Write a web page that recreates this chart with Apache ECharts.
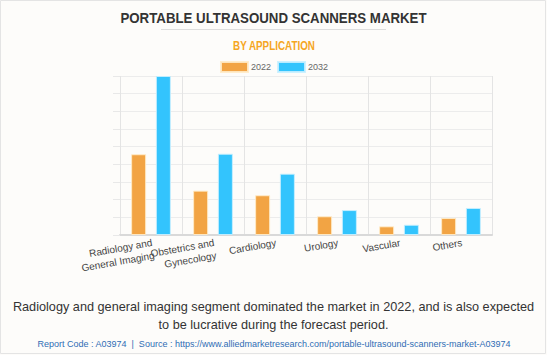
<!DOCTYPE html>
<html>
<head>
<meta charset="utf-8">
<script src="https://cdn.jsdelivr.net/npm/echarts@6/dist/echarts.min.js"></script>
<style>
html,body{margin:0;padding:0;background:#fdfcfa;}
#c{width:547px;height:355px;}
</style>
</head>
<body>
<div id="c"></div>
<script>
const categories = ["Radiology and\nGeneral Imaging", "Obstetrics and\nGynecology", "Cardiology", "Urology", "Vascular", "Others"];
const values2022 = [4.57, 2.51, 2.25, 1.06, 0.49, 0.96];
const values2032 = [9.0, 4.6, 3.47, 1.41, 0.58, 1.53];
const seriesNames = ["2022", "2032"];

const chart = echarts.init(document.getElementById('c'), null, {renderer: 'svg'});
const font = 'Arial, "Liberation Sans", sans-serif';
chart.setOption({
  backgroundColor: '#fdfcfa',
  animation: false,
  textStyle: {fontFamily: font},
  graphic: [
    {type: 'rect', shape: {x: 0.5, y: 0.5, width: 545, height: 353}, style: {fill: 'none', stroke: '#e4e4e4', lineWidth: 1}, silent: true},
    {type: 'text', x: 273.5, y: 18, scaleX: 0.885, style: {text: 'PORTABLE ULTRASOUND SCANNERS MARKET', fill: '#333',
      font: 'bold 15px ' + font, textAlign: 'center', textVerticalAlign: 'middle'}},
    {type: 'line', shape: {x1: 161, y1: 29.5, x2: 386, y2: 29.5}, style: {stroke: '#dddddd', lineWidth: 1}, silent: true},
    {type: 'text', x: 274, y: 46, scaleX: 0.82, style: {text: 'BY APPLICATION', fill: '#F5A623',
      font: 'bold 12px ' + font, textAlign: 'center', textVerticalAlign: 'middle'}},
    {type: 'text', x: 273.5, y: 307, style: {text: 'Radiology and general imaging segment dominated the market in 2022, and is also expected', fill: '#333',
      font: '12.7px ' + font, textAlign: 'center', textVerticalAlign: 'middle'}},
    {type: 'text', x: 273.5, y: 325, style: {text: 'to be lucrative during the forecast period.', fill: '#333',
      font: '12.7px ' + font, textAlign: 'center', textVerticalAlign: 'middle'}},
    {type: 'text', x: 274, y: 344, style: {text: 'Report Code : A03974  |  Source : https://www.alliedmarketresearch.com/portable-ultrasound-scanners-market-A03974', fill: '#2f6db5',
      font: '9px ' + font, textAlign: 'center', textVerticalAlign: 'middle'}}
  ],
  legend: {
    data: seriesNames, left: 215, top: 56, itemWidth: 27, itemHeight: 10, itemGap: 6,
    icon: 'rect',
    textStyle: {fontSize: 9, color: '#666', padding: [0, 0, 0, -2]}
  },
  grid: {left: 120, right: 55, top: 76, bottom: 120, containLabel: false},
  xAxis: {
    type: 'category', data: categories,
    axisLine: {show: true, lineStyle: {color: '#d9d9d9', width: 2}},
    axisTick: {show: false},
    splitLine: {show: true, interval: function (index) { return index < categories.length; }, lineStyle: {color: '#e4e4e4', width: 1}},
    axisLabel: {rotate: 10, interval: 0, fontSize: 10, color: '#444', margin: 1,
                verticalAlign: 'top', lineHeight: 13, fontFamily: font}
  },
  yAxis: {
    type: 'value', min: 0, max: 9, interval: 1,
    axisLine: {show: false},
    axisTick: {show: true, length: 7, lineStyle: {color: '#e8e8e8'}},
    axisLabel: {show: false},
    splitLine: {show: true, lineStyle: {color: '#ececec', width: 1}}
  },
  series: [
    {name: seriesNames[0], type: 'bar', data: values2022, barWidth: 15, barGap: '65%',
     itemStyle: {color: '#F2A444', borderColor: 'rgba(255,235,200,0.9)', borderWidth: 1}},
    {name: seriesNames[1], type: 'bar', data: values2032, barWidth: 15,
     itemStyle: {color: '#33C4FD', borderColor: 'rgba(200,240,255,0.9)', borderWidth: 1}}
  ]
});
</script>
</body>
</html>
